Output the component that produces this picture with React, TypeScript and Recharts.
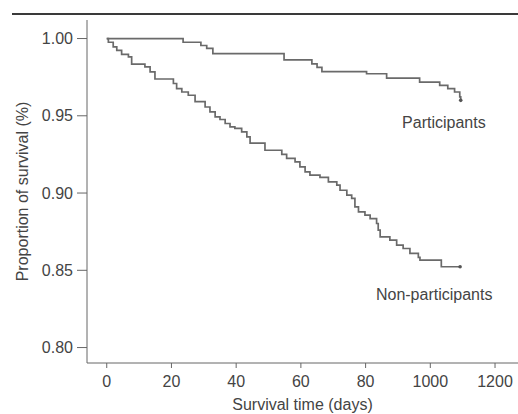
import React from "react";
import { LineChart, Line, XAxis, YAxis, ReferenceDot } from "recharts";

const xTickValues = [0, 20, 40, 60, 80, 100, 120];
const xTickLabels = ["0", "20", "40", "60", "80", "1000", "1200"];
const yTickValues = [0.8, 0.85, 0.9, 0.95, 1.0];
const yTickLabels = ["0.80", "0.85", "0.90", "0.95", "1.00"];

const participantsTime = [0, 23.6, 29.1, 30.9, 32.8, 54.8, 63.4, 65.0, 66.5, 80.3, 86.5, 96.7, 102.9, 105.4, 107.5, 109.1, 109.4];
const participantsSurv = [1.0, 0.9976, 0.9955, 0.9936, 0.9903, 0.9862, 0.9836, 0.9814, 0.9786, 0.9772, 0.9744, 0.9718, 0.9697, 0.9676, 0.9654, 0.9622, 0.96];

const nonTime = [0, 0.5, 2.0, 3.1, 4.6, 6.7, 7.7, 11.8, 13.4, 14.9, 20.6, 21.6, 23.2, 25.2, 27.3, 30.4, 31.9, 33.5, 35.0, 36.6, 38.1, 39.6, 41.7, 43.3, 44.3, 48.9, 54.1, 55.6, 58.2, 59.7, 61.3, 62.8, 65.9, 68.5, 71.1, 72.1, 74.2, 75.7, 76.7, 77.8, 79.8, 81.4, 83.4, 83.9, 84.5, 87.5, 89.6, 91.6, 93.7, 96.3, 96.8, 103.4, 109.2];
const nonSurv = [1.0, 0.9976, 0.9946, 0.9924, 0.9898, 0.9881, 0.9835, 0.9816, 0.9784, 0.9738, 0.9709, 0.9676, 0.9654, 0.9633, 0.9592, 0.9557, 0.9525, 0.9493, 0.9476, 0.945, 0.9428, 0.9418, 0.9396, 0.9363, 0.9323, 0.9277, 0.925, 0.9224, 0.9202, 0.9169, 0.9137, 0.9116, 0.9101, 0.9072, 0.9051, 0.9018, 0.8986, 0.8965, 0.891, 0.8878, 0.8857, 0.8835, 0.8803, 0.876, 0.8716, 0.8695, 0.8663, 0.8641, 0.8609, 0.8583, 0.8566, 0.8523, 0.8523];

const participants = participantsTime.map((t, i) => ({ t, s: participantsSurv[i] }));
const nonParticipants = nonTime.map((t, i) => ({ t, s: nonSurv[i] }));

const FONT = "'Liberation Sans', Arial, sans-serif";
const TEXT = "#444";
const LINE = "#6a6a6a";

const endDot = (len: number) => (props: any) => {
  if (props.index !== len - 1) return <g key={props.index} />;
  return <circle key={props.index} cx={props.cx} cy={props.cy} r={1.8} fill="#555" stroke="none" />;
};

const YLabel = (props: any) => {
  const vb = props.viewBox || {};
  const cy = vb.y + vb.height / 2;
  return (
    <text
      x={22}
      y={cy}
      transform={`rotate(-90, 22, ${cy})`}
      textAnchor="middle"
      dominantBaseline="central"
      fill={TEXT}
      fontSize={16}
      fontFamily={FONT}
    >
      Proportion of survival (%)
    </text>
  );
};

export default function App() {
  return (
    <div style={{ position: "fixed", left: 0, top: 0, width: 518, height: 414, background: "#fff" }}>
      <div style={{ position: "absolute", left: 12, top: 13, width: 506, height: 2, background: "#3a3a3a" }} />
      <LineChart
        width={518}
        height={414}
        margin={{ top: 20, right: 0, bottom: 0, left: 27 }}
        style={{ fontFamily: FONT }}
      >
        <XAxis
          dataKey="t"
          type="number"
          domain={[-6.1, 127.1]}
          ticks={xTickValues}
          tickFormatter={(v: number) => xTickLabels[xTickValues.indexOf(v)] ?? String(v)}
          allowDataOverflow
          height={51}
          tickSize={5}
          tickMargin={8}
          stroke="#666"
          tick={{ fill: TEXT, fontSize: 16, fontFamily: FONT }}
          label={{ value: "Survival time (days)", position: "insideBottom", offset: 4, fill: TEXT, fontSize: 16, fontFamily: FONT }}
        />
        <YAxis
          type="number"
          domain={[0.79, 1.012]}
          ticks={yTickValues}
          tickFormatter={(v: number) => yTickLabels[yTickValues.indexOf(v)] ?? String(v)}
          allowDataOverflow
          width={60}
          tickSize={10}
          tickMargin={4}
          stroke="#666"
          tick={{ fill: TEXT, fontSize: 16, fontFamily: FONT }}
          label={<YLabel />}
        />
        <Line
          data={participants}
          dataKey="s"
          type="stepAfter"
          stroke={LINE}
          strokeWidth={1.7}
          dot={endDot(participants.length)}
          activeDot={false}
          isAnimationActive={false}
        />
        <Line
          data={nonParticipants}
          dataKey="s"
          type="stepAfter"
          stroke={LINE}
          strokeWidth={1.7}
          dot={endDot(nonParticipants.length)}
          activeDot={false}
          isAnimationActive={false}
        />
        <ReferenceDot
          x={104.2}
          y={0.9458}
          r={0}
          fill="none"
          stroke="none"
          label={{ value: "Participants", position: "center", fill: TEXT, fontSize: 16, fontFamily: FONT }}
        />
        <ReferenceDot
          x={101.2}
          y={0.8346}
          r={0}
          fill="none"
          stroke="none"
          label={{ value: "Non-participants", position: "center", fill: TEXT, fontSize: 16, fontFamily: FONT }}
        />
      </LineChart>
    </div>
  );
}
